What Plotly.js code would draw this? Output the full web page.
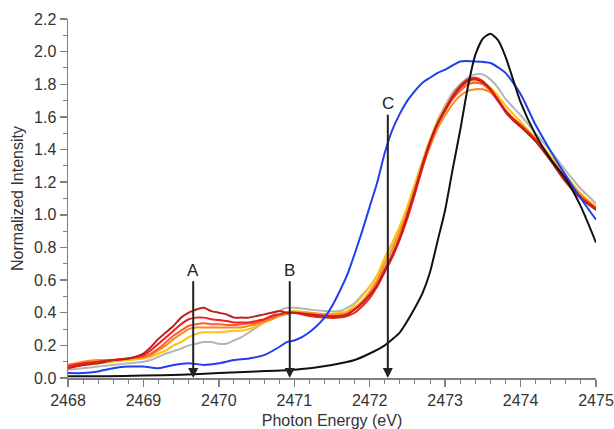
<!DOCTYPE html>
<html><head><meta charset="utf-8">
<script src="https://cdn.plot.ly/plotly-3.0.1.min.js"></script>
<style>html,body{margin:0;padding:0;background:#fff}</style>
</head><body><div id="chart" style="width:614px;height:429px"></div>
<script>
// Photon energy grid for the six coloured spectra
const xColored = [2468.0, 2468.2, 2468.4, 2468.6, 2468.8, 2469.0, 2469.1, 2469.2, 2469.3, 2469.4, 2469.5, 2469.6, 2469.7, 2469.8, 2469.9, 2470.0, 2470.1, 2470.2, 2470.3, 2470.4, 2470.5, 2470.6, 2470.7, 2470.8, 2470.9, 2471.0, 2471.2, 2471.4, 2471.6, 2471.7, 2471.8, 2471.9, 2472.0, 2472.1, 2472.2, 2472.3, 2472.4, 2472.5, 2472.6, 2472.7, 2472.8, 2472.9, 2473.0, 2473.1, 2473.2, 2473.3, 2473.4, 2473.5, 2473.6, 2473.7, 2473.8, 2473.9, 2474.0, 2474.2, 2474.4, 2474.6, 2474.8, 2475.0];
const darkRed = [0.06, 0.08, 0.09, 0.11, 0.12, 0.15, 0.19, 0.24, 0.28, 0.32, 0.37, 0.40, 0.42, 0.43, 0.41, 0.40, 0.39, 0.37, 0.37, 0.37, 0.38, 0.39, 0.40, 0.41, 0.40, 0.40, 0.39, 0.38, 0.38, 0.39, 0.42, 0.46, 0.51, 0.57, 0.66, 0.75, 0.86, 1.00, 1.15, 1.31, 1.45, 1.56, 1.64, 1.72, 1.78, 1.82, 1.83, 1.81, 1.77, 1.70, 1.63, 1.58, 1.54, 1.45, 1.33, 1.20, 1.10, 1.03];
const red = [0.07, 0.09, 0.10, 0.11, 0.12, 0.14, 0.17, 0.21, 0.25, 0.29, 0.33, 0.36, 0.37, 0.37, 0.36, 0.355, 0.35, 0.34, 0.34, 0.34, 0.35, 0.36, 0.38, 0.39, 0.40, 0.40, 0.38, 0.37, 0.37, 0.38, 0.40, 0.44, 0.49, 0.56, 0.65, 0.74, 0.85, 0.98, 1.13, 1.29, 1.44, 1.56, 1.65, 1.73, 1.79, 1.83, 1.84, 1.82, 1.77, 1.71, 1.64, 1.59, 1.55, 1.46, 1.34, 1.21, 1.11, 1.04];
const lightRed = [0.08, 0.09, 0.10, 0.11, 0.12, 0.13, 0.15, 0.18, 0.22, 0.26, 0.29, 0.32, 0.33, 0.335, 0.33, 0.33, 0.325, 0.325, 0.33, 0.335, 0.34, 0.355, 0.37, 0.39, 0.40, 0.40, 0.39, 0.38, 0.38, 0.39, 0.42, 0.46, 0.51, 0.58, 0.67, 0.76, 0.87, 1.00, 1.14, 1.29, 1.43, 1.55, 1.64, 1.71, 1.76, 1.80, 1.81, 1.80, 1.76, 1.70, 1.64, 1.59, 1.55, 1.45, 1.34, 1.21, 1.11, 1.04];
const orange = [0.08, 0.10, 0.11, 0.11, 0.12, 0.13, 0.14, 0.17, 0.20, 0.24, 0.27, 0.30, 0.31, 0.31, 0.31, 0.31, 0.31, 0.31, 0.31, 0.32, 0.33, 0.345, 0.36, 0.38, 0.39, 0.40, 0.40, 0.39, 0.39, 0.40, 0.43, 0.47, 0.53, 0.60, 0.70, 0.79, 0.90, 1.02, 1.16, 1.30, 1.42, 1.53, 1.61, 1.68, 1.73, 1.76, 1.77, 1.77, 1.75, 1.70, 1.64, 1.59, 1.55, 1.45, 1.34, 1.22, 1.12, 1.04];
const yellow = [0.06, 0.08, 0.09, 0.10, 0.11, 0.12, 0.13, 0.15, 0.17, 0.20, 0.22, 0.25, 0.27, 0.28, 0.28, 0.28, 0.285, 0.29, 0.29, 0.30, 0.32, 0.34, 0.36, 0.38, 0.40, 0.41, 0.40, 0.39, 0.40, 0.41, 0.45, 0.50, 0.56, 0.63, 0.74, 0.83, 0.93, 1.05, 1.19, 1.33, 1.46, 1.57, 1.66, 1.73, 1.78, 1.81, 1.82, 1.81, 1.78, 1.73, 1.67, 1.62, 1.57, 1.47, 1.36, 1.24, 1.13, 1.05];
const gray = [0.05, 0.06, 0.07, 0.08, 0.09, 0.10, 0.11, 0.13, 0.15, 0.165, 0.18, 0.20, 0.21, 0.22, 0.22, 0.21, 0.21, 0.23, 0.25, 0.28, 0.31, 0.34, 0.38, 0.41, 0.43, 0.43, 0.42, 0.41, 0.41, 0.43, 0.46, 0.51, 0.56, 0.63, 0.73, 0.82, 0.93, 1.05, 1.19, 1.33, 1.46, 1.58, 1.67, 1.75, 1.80, 1.84, 1.86, 1.86, 1.83, 1.78, 1.71, 1.66, 1.61, 1.50, 1.39, 1.27, 1.16, 1.07];

const xBlue = [2468.0, 2468.2, 2468.4, 2468.6, 2468.8, 2469.0, 2469.2, 2469.4, 2469.6, 2469.8, 2470.0, 2470.2, 2470.4, 2470.6, 2470.8, 2470.9, 2471.0, 2471.1, 2471.2, 2471.3, 2471.4, 2471.5, 2471.6, 2471.7, 2471.8, 2471.9, 2472.0, 2472.1, 2472.2, 2472.3, 2472.4, 2472.5, 2472.6, 2472.7, 2472.8, 2472.9, 2473.0, 2473.2, 2473.4, 2473.6, 2473.8, 2474.0, 2474.2, 2474.4, 2474.6, 2474.8, 2475.0];
const blue = [0.03, 0.03, 0.04, 0.06, 0.07, 0.07, 0.06, 0.08, 0.09, 0.08, 0.09, 0.11, 0.12, 0.14, 0.19, 0.22, 0.23, 0.25, 0.28, 0.32, 0.37, 0.44, 0.53, 0.63, 0.76, 0.90, 1.05, 1.20, 1.38, 1.52, 1.62, 1.70, 1.76, 1.81, 1.84, 1.87, 1.89, 1.94, 1.94, 1.93, 1.87, 1.74, 1.55, 1.39, 1.24, 1.10, 0.97];

const xBlack = [2468.0, 2468.5, 2469.0, 2469.5, 2470.0, 2470.5, 2471.0, 2471.5, 2471.8, 2472.0, 2472.2, 2472.4, 2472.5, 2472.6, 2472.7, 2472.8, 2472.9, 2473.0, 2473.1, 2473.2, 2473.3, 2473.4, 2473.5, 2473.6, 2473.7, 2473.8, 2473.9, 2474.0, 2474.2, 2474.4, 2474.6, 2474.8, 2475.0];
const black = [0.01, 0.01, 0.015, 0.02, 0.03, 0.04, 0.05, 0.08, 0.11, 0.15, 0.20, 0.28, 0.35, 0.43, 0.52, 0.65, 0.84, 1.03, 1.28, 1.52, 1.78, 1.98, 2.08, 2.11, 2.07, 1.97, 1.83, 1.69, 1.49, 1.34, 1.22, 1.05, 0.83];

// Arrow markers
const markLabels = ["A", "B", "C"];
const markX = [2469.66, 2470.94, 2472.24];
const markTop = [0.66, 0.66, 1.68];

const mk = (x, y, color) => ({x: x, y: y, type: 'scatter', mode: 'lines',
  line: {color: color, width: 2, shape: 'spline', smoothing: 0.6}, hoverinfo: 'skip'});

const traces = [
  mk(xColored, gray, '#b5b5b5'),
  mk(xColored, yellow, '#ffc20e'),
  mk(xColored, orange, '#ff8a1c'),
  mk(xColored, lightRed, '#ff5a3a'),
  mk(xColored, red, '#f02020'),
  mk(xColored, darkRed, '#c0201c'),
  mk(xBlue, blue, '#1f3ff0'),
  mk(xBlack, black, '#111111')
];

const annotations = markLabels.map((t, i) => ({
  x: markX[i], y: 0, xref: 'x', yref: 'y',
  ax: markX[i], ay: markTop[i], axref: 'x', ayref: 'y',
  text: t, showarrow: true, arrowhead: 2, arrowsize: 1, arrowwidth: 2,
  arrowcolor: '#222', font: {family: 'Liberation Sans, Arial', size: 17, color: '#222'},
  standoff: 0, startstandoff: 0
}));

const tickFont = {family: 'Liberation Sans, Arial', size: 16, color: '#333'};
const layout = {
  width: 614, height: 429,
  margin: {l: 68, r: 18, t: 19, b: 51},
  paper_bgcolor: '#fff', plot_bgcolor: '#fff',
  showlegend: false,
  xaxis: {
    range: [2468, 2475], dtick: 1, tick0: 2468, showgrid: false, zeroline: false,
    showline: true, linecolor: '#7f7f7f', linewidth: 1.5,
    ticks: 'outside', ticklen: 7, tickcolor: '#7f7f7f', tickwidth: 1.5,
    minor: {dtick: 0.2, ticks: 'outside', ticklen: 4, tickcolor: '#7f7f7f', tickwidth: 1, showgrid: false},
    tickfont: tickFont, tickformat: 'd',
    title: {text: 'Photon Energy (eV)', font: {family: 'Liberation Sans, Arial', size: 16, color: '#333'}, standoff: 8},
    automargin: false
  },
  yaxis: {
    range: [0, 2.2], dtick: 0.2, tick0: 0, showgrid: false, zeroline: false,
    showline: true, linecolor: '#7f7f7f', linewidth: 1.5,
    ticks: 'outside', ticklen: 7, tickcolor: '#7f7f7f', tickwidth: 1.5,
    minor: {dtick: 0.1, ticks: 'outside', ticklen: 4, tickcolor: '#7f7f7f', tickwidth: 1, showgrid: false},
    tickfont: tickFont, tickformat: '.1f',
    title: {text: 'Normalized Intensity', font: {family: 'Liberation Sans, Arial', size: 16, color: '#333'}, standoff: 6},
    automargin: false
  },
  annotations: annotations
};

Plotly.newPlot('chart', traces, layout, {staticPlot: true, displayModeBar: false});
</script></body></html>
